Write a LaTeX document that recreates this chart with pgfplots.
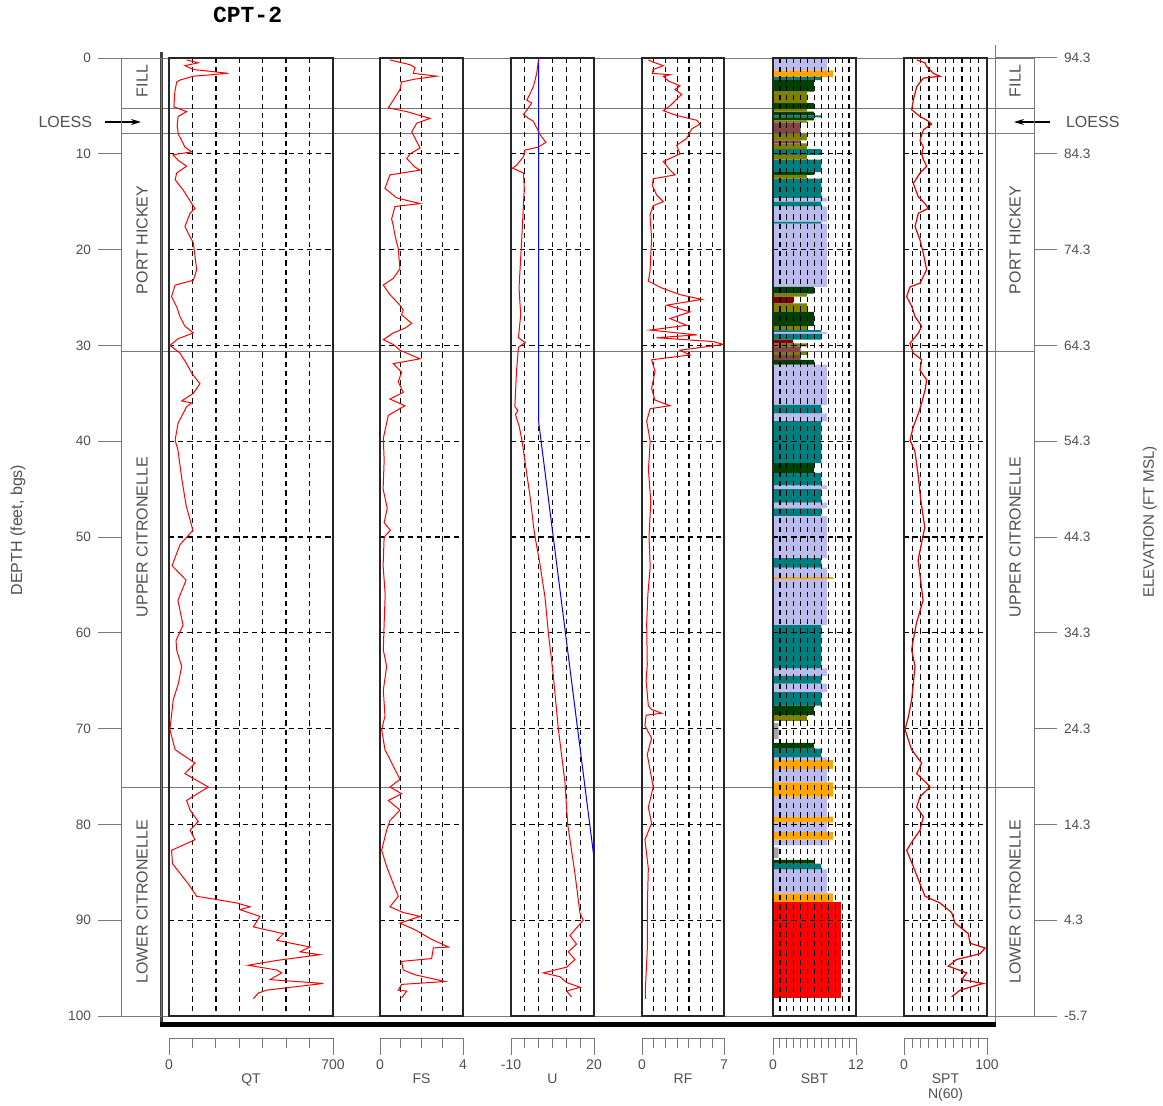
\documentclass[border=0pt]{standalone}
\usepackage{pgfplots}
\pgfplotsset{compat=1.18}
\usepackage{fontspec}
\setmainfont{Liberation Sans}
\newfontfamily\titlefont{Liberation Mono}
\usetikzlibrary{arrows.meta}
\definecolor{txtgray}{RGB}{80,80,80}
\definecolor{lngray}{RGB}{120,120,120}
\definecolor{sbtlav}{RGB}{187,187,238}
\definecolor{sbtteal}{RGB}{0,125,125}
\definecolor{sbtdkg}{RGB}{0,64,0}
\definecolor{sbtolive}{RGB}{128,128,0}
\definecolor{sbtbrown}{RGB}{130,70,70}
\definecolor{sbtdred}{RGB}{128,0,0}
\definecolor{sbtorange}{RGB}{255,165,0}
\definecolor{sbtred}{RGB}{255,0,0}
\definecolor{sbtgray}{RGB}{165,165,165}
\newcommand\fmfont{\fontsize{8}{9.6}\selectfont}
\newcommand\tkfont{\fontsize{6.8}{8}\selectfont}
\pgfplotsset{
  panel/.style={
    scale only axis, anchor=north west, height=479pt,
    ymin=0, ymax=100, y dir=reverse,
    ytick={10,20,...,90},
    xticklabels={}, yticklabels={},
    major tick length=0pt,
    grid=major,
    major grid style={black, line width=0.65pt, dash pattern=on 2.6pt off 2pt},
    axis line style={black!85, line width=0.8pt},
  },
  scalebar/.style={
    scale only axis, anchor=south west, height=1pt, ymin=0, ymax=1,
    axis x line*=bottom, axis y line=none,
    tick align=outside, major tick length=8.5pt, minor tick length=5pt,
    x axis line style={lngray, line width=0.5pt, -},
    tick style={lngray, line width=0.5pt},
    xticklabel style={font=\fontsize{7}{8}\selectfont, text=txtgray, yshift=1.3pt},
    xlabel style={font=\fontsize{7}{7.6}\selectfont, text=txtgray, align=center, yshift=4.6pt},
    /pgf/number format/assume math mode=true,
  },
}
\begin{document}
\begin{tikzpicture}
% ---------- frame (pixel coordinates) ----------
\begin{axis}[at={(0pt,0pt)}, anchor=north west, scale only axis,
  width=581.5pt, height=553pt, xmin=0, xmax=1163, ymin=0, ymax=1106,
  y dir=reverse, hide axis, clip=false]
  \draw[lngray, line width=0.5pt] (122,58) -- (1035,58);
  \draw[lngray, line width=0.5pt] (122,1016) -- (1035,1016);
  \draw[lngray, line width=0.5pt] (122,108.8) -- (1035,108.8);
  \draw[lngray, line width=0.5pt] (122,133.7) -- (1035,133.7);
  \draw[lngray, line width=0.5pt] (122,351) -- (1035,351);
  \draw[lngray, line width=0.5pt] (122,787) -- (1035,787);
  \draw[black!75, line width=1.1pt] (161.5,52) -- (161.5,1025);
  \draw[lngray, line width=0.6pt] (995.5,45) -- (995.5,1025);
  \draw[black, line width=2.6pt] (160,1024.5) -- (996,1024.5);
  % title and side labels
  \node[font=\titlefont\bfseries\fontsize{11.5}{13}\selectfont, anchor=west] at (206,15) {CPT-2};
  \node[rotate=90, font=\fontsize{8}{9}\selectfont, text=txtgray] at (18,530) {DEPTH (feet, bgs)};
  \node[rotate=90, font=\fontsize{7.6}{9}\selectfont, text=txtgray] at (1150,522) {ELEVATION (FT MSL)};
  % formations
  \node[rotate=90, font=\fmfont, text=txtgray] at (142,81) {FILL};
  \node[rotate=90, font=\fmfont, text=txtgray] at (142,240) {PORT HICKEY};
  \node[rotate=90, font=\fmfont, text=txtgray] at (142,537) {UPPER CITRONELLE};
  \node[rotate=90, font=\fmfont, text=txtgray] at (142,902) {LOWER CITRONELLE};
  \node[rotate=90, font=\fmfont, text=txtgray] at (1015,81) {FILL};
  \node[rotate=90, font=\fmfont, text=txtgray] at (1015,240) {PORT HICKEY};
  \node[rotate=90, font=\fmfont, text=txtgray] at (1015,537) {UPPER CITRONELLE};
  \node[rotate=90, font=\fmfont, text=txtgray] at (1015,902) {LOWER CITRONELLE};
  \node[font=\fmfont, text=txtgray, anchor=east] at (99,122) {LOESS};
  \node[font=\fmfont, text=txtgray, anchor=west] at (1059,122) {LOESS};
  \draw[-{Stealth[length=5pt,width=3pt]}, line width=0.6pt] (105,122) -- (141,122);
  \draw[-{Stealth[length=5pt,width=3pt]}, line width=0.6pt] (1050,122) -- (1014,122);
\end{axis}
% ---------- depth axis (left) ----------
\begin{axis}[scale only axis, anchor=north west, at={(61pt,-29pt)},
  width=19.5pt, height=479pt, xmin=0, xmax=1, ymin=0, ymax=100, y dir=reverse,
  xtick=\empty, ytick={0,10,...,100}, ytick pos=left, tick align=outside,
  major tick length=12pt, axis line style={lngray, line width=0.5pt},
  tick style={lngray, line width=0.5pt},
  yticklabel style={font=\tkfont, text=txtgray},
  /pgf/number format/assume math mode=true]
\end{axis}
% ---------- elevation axis (right) ----------
\begin{axis}[scale only axis, anchor=north west, at={(497.5pt,-29pt)},
  width=19.5pt, height=479pt, xmin=0, xmax=1, ymin=-5.7, ymax=94.3,
  xtick=\empty, ytick={-5.7,4.3,14.3,24.3,34.3,44.3,54.3,64.3,74.3,84.3,94.3},
  ytick pos=right, yticklabel pos=right, tick align=outside,
  major tick length=11.5pt, axis line style={lngray, line width=0.5pt},
  tick style={lngray, line width=0.5pt},
  yticklabel style={font=\tkfont, text=txtgray, /pgf/number format/.cd, fixed, fixed zerofill, precision=1},
  /pgf/number format/assume math mode=true]
\end{axis}
% ---------- QT ----------
\begin{axis}[panel, at={(84.5pt,-29pt)}, width=82pt, xmin=0, xmax=700, xtick={100,200,...,600}]
\addplot[red, line width=0.5pt] coordinates {
(75,0.2)(125,0.5)(68,0.8)(104,1.2)(253,1.6)(104,1.9)(47,2.3)(33,2.5)(25,3.5)(21,5.1)(75,5.6)(39,6.1)(35,7.0)(39,7.9)(68,9.3)(97,9.8)(17,10.1)(40,10.7)(75,11.3)(33,12.0)(26,12.7)(61,13.8)(97,15.2)(111,15.7)(90,16.2)(68,17.6)(82,18.3)(104,19.3)(111,20.7)(118,22.1)(104,23.2)(26,23.7)(11,24.9)(33,26.0)(47,27.0)(68,28.0)(104,28.7)(39,29.3)(4,30.0)(47,30.8)(75,31.9)(97,32.9)(132,34.0)(104,35.0)(54,35.8)(97,36.0)(75,36.4)(39,38.1)(26,39.9)(38,40.9)(55,44.0)(73,46.7)(102,49.3)(47,50.8)(13,53.0)(73,54.5)(38,56.6)(60,59.2)(30,60.8)(33,61.8)(54,63.5)(40,65.3)(18,67.0)(4,70.1)(26,72.2)(111,73.6)(68,74.7)(168,76.1)(75,77.5)(90,78.5)(125,79.7)(90,80.6)(111,81.6)(11,82.7)(15,84.1)(82,86.2)(118,87.5)(289,88.2)(346,88.6)(303,88.9)(388,89.6)(360,90.7)(488,91.4)(460,92.1)(602,92.8)(559,93.3)(644,93.6)(460,94.2)(338,94.7)(460,95.2)(481,95.5)(431,96.2)(659,96.6)(417,97.3)(381,97.6)(360,98.2)};
\end{axis}
% ---------- FS ----------
\begin{axis}[panel, at={(190pt,-29pt)}, width=41.5pt, xmin=0, xmax=4, xtick={1,2,3}]
\addplot[red, line width=0.5pt] coordinates {
(0.48,0.2)(1.45,0.7)(1.69,1.0)(1.6,1.6)(2.73,1.9)(1.69,2.2)(1.04,2.5)(0.96,3.3)(0.64,4.4)(0.4,5.2)(1.29,5.6)(2.41,6.3)(1.77,6.8)(1.53,7.7)(1.69,8.4)(1.93,9.4)(1.45,10.0)(1.29,10.5)(1.69,11.4)(1.93,11.7)(0.48,12.2)(0.24,13.6)(0.8,14.6)(1.93,15.2)(0.72,15.5)(0.56,16.8)(0.64,17.5)(0.72,18.5)(0.88,19.9)(0.96,22.0)(0.64,23.0)(0.16,23.7)(0.48,24.7)(0.96,25.8)(1.12,26.3)(1.04,26.8)(1.53,27.7)(1.2,28.2)(0.64,28.7)(0.16,29.4)(0.64,29.9)(0.96,30.5)(1.93,31.4)(0.64,31.9)(1.04,32.8)(0.88,33.8)(1.12,34.9)(0.48,35.6)(1.2,36.3)(0.4,37.3)(0.16,39.7)(0.2,42)(0.15,45)(0.35,47)(0.2,48.5)(0.5,49.3)(0.2,50)(0.15,53)(0.25,56)(0.2,59)(0.16,61.8)(0.32,63.5)(0.16,66.0)(0.24,68.7)(0.08,70.1)(0.24,72.2)(0.64,73.9)(0.96,75.3)(0.48,76.1)(1.04,76.8)(0.4,77.5)(0.96,78.5)(0.48,79.6)(0.32,80.6)(0.08,82.7)(0.32,84.4)(0.64,86.2)(0.88,87.5)(0.48,88.6)(1.12,89.2)(1.93,89.6)(0.96,90.3)(1.69,91.0)(2.49,92.0)(3.3,92.8)(2.57,92.9)(2.49,94.0)(1.04,94.3)(1.12,95.2)(1.69,95.7)(3.13,96.4)(1.04,96.7)(0.88,97.3)(1.29,97.4)(1.04,98.1)};
\end{axis}
% ---------- U ----------
\begin{axis}[panel, at={(255.5pt,-29pt)}, width=41.5pt, xmin=-10, xmax=20, xtick={-5,0,5,10,15}]
\addplot[blue, line width=0.5pt] coordinates {(0,0)(0,38)(20,83.5)(20,98.2)};
\addplot[red, line width=0.5pt] coordinates {
(-0.1,0.2)(-0.7,1.6)(-1.9,3.0)(-3.1,3.7)(-4.3,4.4)(-2.5,4.7)(-3.7,5.2)(-5.5,5.9)(-3.7,6.3)(-1.9,6.6)(-0.7,7.3)(0.5,8.0)(2.6,8.8)(-0.1,9.3)(-4.9,9.6)(-5.5,10.3)(-8.0,11.2)(-9.4,11.5)(-5.5,12.0)(-5.2,13.6)(-6.1,18.8)(-7.1,24.0)(-6.5,26.8)(-7.3,29.2)(-4.9,29.7)(-7.3,30.2)(-8.0,32.6)(-8.6,36.4)(-7.5,36.8)(-8.4,37.2)(-7.0,38.5)(-6.0,40.0)(-4.5,43.0)(-3.0,46.0)(-1.9,48.8)(-1.3,50)(0.5,52.9)(2.3,56.3)(3.5,60)(5.3,64.5)(7.1,70)(9.5,75.6)(10.5,80)(13.1,85.1)(14.9,89.2)(16.1,90)(11.3,91.6)(13.7,92.5)(10.7,93.3)(13.1,94.1)(10.1,94.9)(1.7,95.5)(7.7,95.9)(10.1,96.5)(14.9,97.0)(10.1,97.4)(11.9,98.0)};
\end{axis}
% ---------- RF ----------
\begin{axis}[panel, at={(321pt,-29pt)}, width=41pt, xmin=0, xmax=7, xtick={1,...,6}]
\addplot[red, line width=0.5pt] coordinates {
(0.54,0.2)(1.11,0.5)(1.82,0.8)(0.96,1.2)(0.88,1.6)(2.39,1.75)(1.82,1.9)(2.25,2.4)(3.24,2.9)(2.82,3.3)(3.39,3.8)(2.96,4.3)(2.39,5.0)(1.82,5.5)(2.96,6.0)(4.67,6.5)(4.95,6.9)(4.24,7.4)(3.81,8.4)(2.96,9.1)(3.24,10.0)(1.82,10.8)(2.39,11.7)(2.82,12.2)(0.96,12.6)(0.88,13.3)(1.25,14.3)(1.82,15.0)(0.96,15.4)(0.68,16.4)(0.82,18.8)(0.68,22.3)(0.54,23.3)(1.68,24.0)(3.24,24.7)(5.1,25.2)(2.1,25.8)(4.1,26.5)(2.39,27.2)(3.81,27.9)(0.68,28.4)(4.67,28.9)(1.25,29.2)(6.09,29.6)(6.94,29.9)(3.24,30.5)(4.1,31.0)(0.82,31.5)(1.11,32.7)(0.82,34.5)(1.1,35.7)(2.39,36.3)(0.7,36.6)(0.4,37.9)(0.7,40)(0.55,43)(0.75,46.3)(0.6,50)(0.7,53.1)(0.5,56)(0.4,59.1)(0.45,63.3)(0.35,65.0)(0.54,67.6)(0.82,68.0)(1.68,68.4)(0.35,68.6)(0.25,69.7)(0.82,71.0)(0.45,72.7)(0.7,74.4)(0.96,76.1)(0.54,78.2)(0.82,79.9)(0.25,81.6)(0.54,84.6)(0.45,88.8)(0.45,93.1)(0.28,97.4)(0.3,98.2)};
\end{axis}
% ---------- SBT ----------
\begin{axis}[panel, axis on top, at={(386.5pt,-29pt)}, width=41.5pt, xmin=0, xmax=12, xtick={1,...,11}]
\addplot[xbar interval, fill=sbtlav, draw=none] table {
x y
7.8 0
0 1.3
7.8 14.6
0 15.0
7.8 15.5
0 17.1
7.8 17.3
0 23.9
7.8 28.6
0 28.8
7.8 32.0
0 36.2
7.8 37.1
0 37.9
7.8 44.6
0 45.0
7.8 46.4
0 47.0
7.8 47.8
0 52.2
7.8 53.2
0 54.2
7.8 54.4
0 59.2
7.8 63.7
0 64.5
7.8 65.3
0 66.2
7.8 73.0
0 73.3
7.8 74.2
0 75.6
7.8 77.1
0 79.2
7.8 79.8
0 80.8
7.8 81.6
0 82.2
7.8 84.7
0 87.2
};
\addplot[xbar interval, fill=sbtorange, draw=none] table {
x y
8.7 1.3
0 2.0
8.7 54.2
0 54.4
8.7 73.3
0 74.2
8.7 75.6
0 77.1
8.7 79.2
0 79.8
8.7 80.8
0 81.6
8.7 87.2
0 88.1
};
\addplot[xbar interval, fill=sbtteal, draw=none] table {
x y
7.0 2.0
0 2.3
7.0 6.0
0 6.2
7.0 9.5
0 10.1
7.0 10.6
0 11.9
7.0 12.6
0 14.6
7.0 15.0
0 15.5
7.0 17.1
0 17.3
7.0 28.4
0 28.6
7.0 28.8
0 29.4
7.0 36.2
0 37.1
7.0 37.9
0 42.3
7.0 43.3
0 44.6
7.0 45.0
0 46.4
7.0 47.0
0 47.8
7.0 52.2
0 53.2
7.0 59.2
0 63.7
7.0 64.5
0 65.3
7.0 66.2
0 67.6
7.0 72.1
0 73.0
7.0 84.1
0 84.7
};
\addplot[xbar interval, fill=sbtdkg, draw=none] table {
x y
5.9 2.3
0 3.5
5.9 4.7
0 5.3
5.9 5.6
0 6.0
5.9 6.2
0 6.5
5.9 11.9
0 12.2
5.9 23.9
0 24.6
5.9 26.5
0 28.0
5.9 31.5
0 32.0
5.9 42.3
0 43.3
5.9 67.6
0 68.6
5.9 71.5
0 72.1
5.9 83.7
0 84.1
};
\addplot[xbar interval, fill=sbtolive, draw=none] table {
x y
4.9 3.5
0 4.7
4.9 5.3
0 5.6
4.9 6.5
0 6.75
4.9 7.9
0 8.6
4.9 8.9
0 9.5
4.9 10.1
0 10.6
4.9 12.2
0 12.6
4.9 24.6
0 24.9
4.9 25.6
0 26.5
4.9 28.0
0 28.4
4.9 29.8
0 30.1
4.9 30.7
0 31.0
4.9 68.6
0 69.2
};
\addplot[xbar interval, fill=sbtbrown, draw=none] table {
x y
4.0 6.75
0 7.9
4.0 8.6
0 8.9
4.0 30.1
0 30.7
4.0 31.0
0 31.5
};
\addplot[xbar interval, fill=sbtdred, draw=none] table {
x y
2.9 24.9
0 25.6
2.9 29.4
0 29.8
};
\addplot[xbar interval, fill=sbtgray, draw=none] table {
x y
0.8 69.4
0 71.1
0.8 82.4
0 83.5
};
\addplot[xbar interval, fill=sbtred, draw=none] table {
x y
9.9 88.1
0 98.1
};
\end{axis}
% ---------- SPT ----------
\begin{axis}[panel, at={(452pt,-29pt)}, width=41.5pt, xmin=0, xmax=100, xtick={10,20,...,90}]
\addplot[red!90!black, line width=0.6pt] coordinates {
(15.3,0.2)(25.3,0.5)(27.3,0.9)(35.3,1.6)(43.4,1.9)(23.3,2.1)(15.3,3.0)(11.2,4.4)(9.2,5.4)(19.3,6.1)(29.3,6.6)(33.3,6.9)(23.3,7.5)(19.3,8.6)(23.3,9.3)(21.3,10.0)(23.3,10.6)(27.3,11.3)(19.3,12.0)(11.2,13.1)(17.3,14.5)(25.3,15.2)(29.3,15.7)(17.3,16.2)(13.3,17.6)(19.3,19.0)(23.3,20.4)(27.3,22.1)(19.3,23.5)(7.2,23.9)(3.2,24.9)(9.2,25.9)(13.3,27.0)(21.3,28.0)(17.3,28.7)(7.2,29.8)(11.2,30.8)(21.3,31.5)(19.3,32.6)(27.3,33.6)(25.3,34.7)(21.3,36.0)(17.3,37.1)(11.2,38.5)(7.2,39.9)(13,41)(17,43.5)(20,46)(25,49)(17,52.4)(23,56.6)(15,59)(11,60.8)(9.2,61.8)(13.3,63.5)(11.2,65.3)(9.2,67.0)(5.2,68.8)(1.2,70.1)(9.2,72.2)(21.3,73.6)(15.3,74.7)(27.3,75.7)(31.3,76.1)(19.3,77.1)(15.3,78.2)(23.3,79.2)(19.3,80.6)(11.2,81.6)(3.2,82.7)(11.2,84.4)(19.3,86.2)(25.3,87.5)(43.4,88.2)(57.4,89.2)(61.4,90.3)(77.5,91.4)(79.5,92.4)(97.6,92.9)(91.6,93.5)(63.4,94.1)(53.4,94.8)(75.5,95.5)(69.5,96.2)(95.6,96.6)(67.5,97.3)(57.4,98.0)};
\end{axis}
% ---------- bottom scales ----------
\begin{axis}[scalebar, at={(84.5pt,-519pt)}, width=82pt, xmin=0, xmax=700, xtick={0,700}, minor xtick={100,200,...,600}, xlabel={QT}]
\end{axis}
\begin{axis}[scalebar, at={(190pt,-519pt)}, width=41.5pt, xmin=0, xmax=4, xtick={0,4}, minor xtick={1,2,3}, xlabel={FS}]
\end{axis}
\begin{axis}[scalebar, at={(255.5pt,-519pt)}, width=41.5pt, xmin=-10, xmax=20, xtick={-10,20}, minor xtick={-5,0,5,10,15}, xlabel={U}]
\end{axis}
\begin{axis}[scalebar, at={(321pt,-519pt)}, width=41pt, xmin=0, xmax=7, xtick={0,7}, minor xtick={1,...,6}, xlabel={RF}]
\end{axis}
\begin{axis}[scalebar, at={(386.5pt,-519pt)}, width=41.5pt, xmin=0, xmax=12, xtick={0,12}, minor xtick={1,...,11}, xlabel={SBT}]
\end{axis}
\begin{axis}[scalebar, at={(452pt,-519pt)}, width=41.5pt, xmin=0, xmax=100, xtick={0,100}, minor xtick={10,20,...,90}, xlabel={SPT\\N(60)}]
\end{axis}
\pgfresetboundingbox
\path[use as bounding box] (0pt,0pt) rectangle (581.5pt,-553pt);
\end{tikzpicture}
\end{document}
